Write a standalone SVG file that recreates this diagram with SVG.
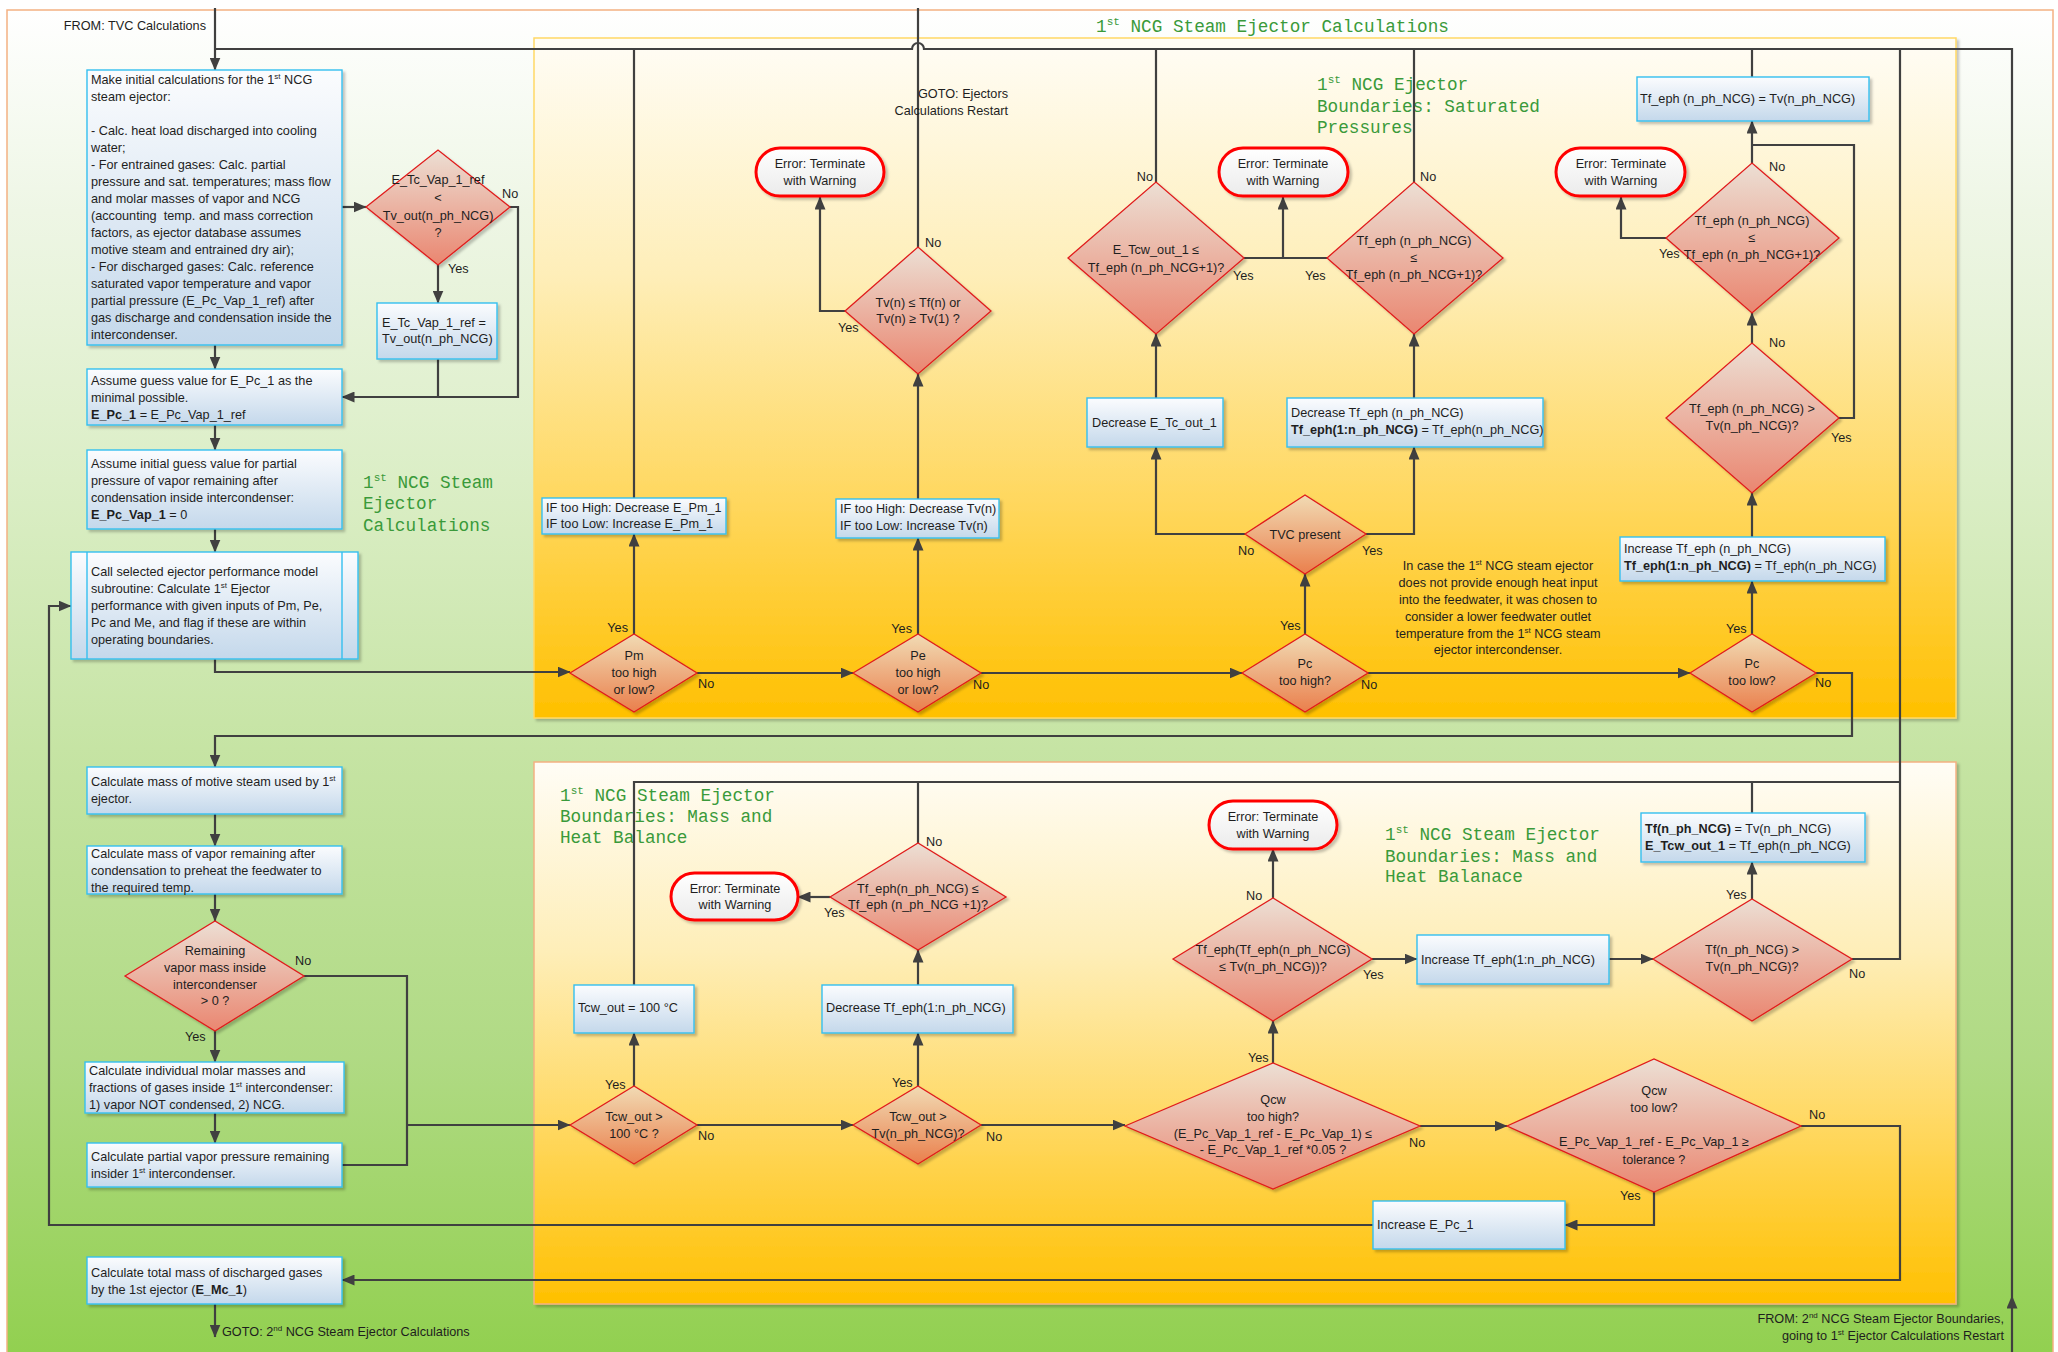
<svg xmlns="http://www.w3.org/2000/svg" width="2058" height="1352" viewBox="0 0 2058 1352">
<defs>
  <linearGradient id="gFrame" gradientUnits="userSpaceOnUse" x1="0" y1="10" x2="0" y2="1352">
    <stop offset="0" stop-color="#ffffff"/>
    <stop offset="0.15" stop-color="#eef6e5"/>
    <stop offset="0.35" stop-color="#dbeec6"/>
    <stop offset="0.55" stop-color="#c6e4a4"/>
    <stop offset="0.78" stop-color="#b0da84"/>
    <stop offset="1" stop-color="#92d050"/>
  </linearGradient>
  <linearGradient id="gYel" x1="0" y1="0" x2="0" y2="1">
    <stop offset="0" stop-color="#fffdf6"/>
    <stop offset="0.35" stop-color="#feeeb8"/>
    <stop offset="0.7" stop-color="#ffd659"/>
    <stop offset="1" stop-color="#ffc000"/>
  </linearGradient>
  <linearGradient id="gBox" x1="0" y1="0" x2="0" y2="1">
    <stop offset="0" stop-color="#fbfcfe"/>
    <stop offset="1" stop-color="#c4d8eb"/>
  </linearGradient>
  <linearGradient id="gDiaP" x1="0" y1="0" x2="0" y2="1">
    <stop offset="0" stop-color="#ecdfd4"/>
    <stop offset="1" stop-color="#ea8670"/>
  </linearGradient>
  <linearGradient id="gDiaO" x1="0" y1="0" x2="0" y2="1">
    <stop offset="0" stop-color="#f1dbb4"/>
    <stop offset="1" stop-color="#ea7f4c"/>
  </linearGradient>
  <linearGradient id="gTerm" x1="0" y1="0" x2="0" y2="1">
    <stop offset="0" stop-color="#ffffff"/>
    <stop offset="1" stop-color="#ebebeb"/>
  </linearGradient>
  <marker id="arr" markerUnits="userSpaceOnUse" markerWidth="13" markerHeight="11" viewBox="0 0 13 11" refX="12.5" refY="5.5" orient="auto">
    <path d="M0 0 L13 5.5 L0 11 Z" fill="#404040"/>
  </marker>
  <filter id="sh" x="-10%" y="-10%" width="130%" height="130%">
    <feDropShadow dx="2.5" dy="2.5" stdDeviation="1" flood-color="#000" flood-opacity="0.22"/>
  </filter>
</defs>
<style>
  .t{font-family:"Liberation Sans",Arial,sans-serif;font-size:12.7px;fill:#1e1e1e}
  .c{text-anchor:middle}
  .e{text-anchor:end}
  .b{font-weight:bold}
  .g{font-family:"Liberation Mono","Courier New",monospace;font-size:17.7px;fill:#3a9a3a}
  .box{fill:url(#gBox);stroke:#35bff0;stroke-width:1.4;filter:url(#sh)}
  .dp{fill:url(#gDiaP);stroke:#e01b1b;stroke-width:1.3;filter:url(#sh)}
  .do{fill:url(#gDiaO);stroke:#e01b1b;stroke-width:1.3;filter:url(#sh)}
  .term{fill:url(#gTerm);stroke:#ff0000;stroke-width:3;filter:url(#sh)}
  .ln{fill:none;stroke:#404040;stroke-width:2.2}
  .ar{marker-end:url(#arr)}
</style>

<!-- containers -->
<g id="containers">
  <rect x="7" y="10" width="2046" height="1360" fill="url(#gFrame)" stroke="#f4b183" stroke-width="1.5"/>
  <rect x="534" y="38" width="1422" height="680" fill="url(#gYel)" stroke="#ffd966" stroke-width="1.5" filter="url(#sh)"/>
  <rect x="534" y="762" width="1422" height="542" fill="url(#gYel)" stroke="#f4b183" stroke-width="1.5" filter="url(#sh)"/>
</g>

<!-- section titles -->
<g id="titles">
  <text class="g" x="1096" y="32">1<tspan dy="-7" font-size="11">st</tspan><tspan dy="7"> NCG Steam Ejector Calculations</tspan></text>
  <text class="g" x="1317" y="90">1<tspan dy="-7" font-size="11">st</tspan><tspan dy="7"> NCG Ejector</tspan></text>
  <text class="g" x="1317" y="112">Boundaries: Saturated</text>
  <text class="g" x="1317" y="133">Pressures</text>
  <text class="g" x="363" y="488">1<tspan dy="-7" font-size="11">st</tspan><tspan dy="7"> NCG Steam</tspan></text>
  <text class="g" x="363" y="509">Ejector</text>
  <text class="g" x="363" y="531">Calculations</text>
  <text class="g" x="560" y="801">1<tspan dy="-7" font-size="11">st</tspan><tspan dy="7"> NCG Steam Ejector</tspan></text>
  <text class="g" x="560" y="822">Boundaries: Mass and</text>
  <text class="g" x="560" y="843">Heat Balance</text>
  <text class="g" x="1385" y="840">1<tspan dy="-7" font-size="11">st</tspan><tspan dy="7"> NCG Steam Ejector</tspan></text>
  <text class="g" x="1385" y="862">Boundaries: Mass and</text>
  <text class="g" x="1385" y="882">Heat Balanace</text>
</g>

<!-- connectors -->
<g id="connectors">
  <path class="ln ar" d="M215 8 V70"/>
  <path class="ln ar" d="M2012 1352 V1296"/>
  <path class="ln" d="M2012 1296 V49 H924 A6 6 0 0 0 912 49 H215"/>
  <path class="ln" d="M1852 959 H1900 V49"/>
  <path class="ln" d="M634 985 V782 H1900"/>
  <path class="ln" d="M918 843 V782"/>
  <path class="ln" d="M1752 813 V782"/>
  <path class="ln" d="M634 498 V49"/>
  <path class="ln" d="M918 247 V8"/>
  <path class="ln" d="M1156 182 V49"/>
  <path class="ln" d="M1414 182 V49"/>
  <path class="ln" d="M1752 77 V49"/>

  <path class="ln ar" d="M215 345 V369"/>
  <path class="ln ar" d="M215 425 V450"/>
  <path class="ln ar" d="M215 529 V552"/>
  <path class="ln ar" d="M342 207 H366"/>
  <path class="ln ar" d="M438 265 V303"/>
  <path class="ln ar" d="M510 207 H518 V397 H342"/>
  <path class="ln" d="M438 359 V397"/>
  <path class="ln ar" d="M215 659 V672 H570"/>
  <path class="ln ar" d="M1816 673 H1852 V736 H215 V767"/>
  <path class="ln ar" d="M215 814 V846"/>
  <path class="ln ar" d="M215 894 V921"/>
  <path class="ln ar" d="M215 1031 V1062"/>
  <path class="ln ar" d="M215 1113 V1143"/>
  <path class="ln" d="M304 976 H407 V1165 H342"/>
  <path class="ln ar" d="M407 1125 H570"/>
  <path class="ln ar" d="M1373 1225 H49 V606 H71"/>
  <path class="ln ar" d="M1654 1192 V1225 H1565"/>
  <path class="ln ar" d="M1801 1126 H1900 V1280 H342"/>
  <path class="ln ar" d="M215 1304 V1337"/>

  <path class="ln ar" d="M697 673 H853"/>
  <path class="ln ar" d="M981 673 H1242"/>
  <path class="ln ar" d="M1368 673 H1690"/>
  <path class="ln ar" d="M634 634 V534"/>
  <path class="ln ar" d="M918 634 V538"/>
  <path class="ln ar" d="M918 499 V374"/>
  <path class="ln ar" d="M845 311 H820 V197"/>
  <path class="ln ar" d="M1305 634 V574"/>
  <path class="ln ar" d="M1245 534 H1156 V447"/>
  <path class="ln ar" d="M1366 534 H1414 V447"/>
  <path class="ln ar" d="M1156 398 V334"/>
  <path class="ln ar" d="M1414 398 V334"/>
  <path class="ln" d="M1244 258 H1327"/>
  <path class="ln ar" d="M1283 258 V197"/>
  <path class="ln ar" d="M1752 634 V581"/>
  <path class="ln ar" d="M1752 537 V493"/>
  <path class="ln ar" d="M1752 343 V313"/>
  <path class="ln ar" d="M1752 163 V121"/>
  <path class="ln" d="M1839 418 H1854 V145 H1752"/>
  <path class="ln ar" d="M1666 238 H1621 V197"/>

  <path class="ln ar" d="M697 1125 H853"/>
  <path class="ln ar" d="M981 1125 H1125"/>
  <path class="ln ar" d="M1420 1126 H1507"/>
  <path class="ln ar" d="M634 1086 V1033"/>
  <path class="ln ar" d="M918 1086 V1033"/>
  <path class="ln ar" d="M918 985 V950"/>
  <path class="ln ar" d="M830 897 H798"/>
  <path class="ln ar" d="M1273 1063 V1021"/>
  <path class="ln ar" d="M1273 898 V849"/>
  <path class="ln ar" d="M1372 959 H1417"/>
  <path class="ln ar" d="M1609 959 H1653"/>
  <path class="ln ar" d="M1752 899 V862"/>
</g>

<!-- free labels -->
<g id="from-tvc"><text class="t e" x="206" y="30">FROM: TVC Calculations</text></g>
<g id="goto-restart">
  <text class="t e" x="1008" y="98">GOTO: Ejectors</text>
  <text class="t e" x="1008" y="115">Calculations Restart</text>
</g>
<g id="goto-second"><text class="t" x="222" y="1336">GOTO: 2<tspan dy="-5" font-size="8">nd</tspan><tspan dy="5"> NCG Steam Ejector Calculations</tspan></text></g>
<g id="from-second">
  <text class="t e" x="2004" y="1323">FROM: 2<tspan dy="-5" font-size="8">nd</tspan><tspan dy="5"> NCG Steam Ejector Boundaries,</tspan></text>
  <text class="t e" x="2004" y="1340">going to 1<tspan dy="-5" font-size="8">st</tspan><tspan dy="5"> Ejector Calculations Restart</tspan></text>
</g>
<g id="note-tvc">
  <text class="t c" x="1498" y="570">In case the 1<tspan dy="-5" font-size="8">st</tspan><tspan dy="5"> NCG steam ejector</tspan></text>
  <text class="t c" x="1498" y="587">does not provide enough heat input</text>
  <text class="t c" x="1498" y="604">into the feedwater, it was chosen to</text>
  <text class="t c" x="1498" y="621">consider a lower feedwater outlet</text>
  <text class="t c" x="1498" y="638">temperature from the 1<tspan dy="-5" font-size="8">st</tspan><tspan dy="5"> NCG steam</tspan></text>
  <text class="t c" x="1498" y="654">ejector intercondenser.</text>
</g>

<!-- left column -->
<g id="init-calcs">
  <rect class="box" x="87" y="70" width="255" height="275"/>
  <text class="t" x="91" y="84">Make initial calculations for the 1<tspan dy="-5" font-size="8">st</tspan><tspan dy="5"> NCG</tspan></text>
  <text class="t" x="91" y="101">steam ejector:</text>
  <text class="t" x="91" y="135">- Calc. heat load discharged into cooling</text>
  <text class="t" x="91" y="152">water;</text>
  <text class="t" x="91" y="169">- For entrained gases: Calc. partial</text>
  <text class="t" x="91" y="186">pressure and sat. temperatures; mass flow</text>
  <text class="t" x="91" y="203">and molar masses of vapor and NCG</text>
  <text class="t" x="91" y="220" xml:space="preserve">(accounting  temp. and mass correction</text>
  <text class="t" x="91" y="237">factors, as ejector database assumes</text>
  <text class="t" x="91" y="254">motive steam and entrained dry air);</text>
  <text class="t" x="91" y="271">- For discharged gases: Calc. reference</text>
  <text class="t" x="91" y="288">saturated vapor temperature and vapor</text>
  <text class="t" x="91" y="305">partial pressure (E_Pc_Vap_1_ref) after</text>
  <text class="t" x="91" y="322">gas discharge and condensation inside the</text>
  <text class="t" x="91" y="339">intercondenser.</text>
</g>
<g id="dec-tc-vap-ref">
  <polygon class="dp" points="366,207 438,150 510,207 438,265"/>
  <text class="t c" x="438" y="184">E_Tc_Vap_1_ref</text>
  <text class="t c" x="438" y="202">&lt;</text>
  <text class="t c" x="438" y="220">Tv_out(n_ph_NCG)</text>
  <text class="t c" x="438" y="237">?</text>
  <text class="t" x="502" y="198">No</text>
  <text class="t" x="448" y="273">Yes</text>
</g>
<g id="set-tc-vap-ref">
  <rect class="box" x="377" y="303" width="120" height="56"/>
  <text class="t" x="382" y="327">E_Tc_Vap_1_ref =</text>
  <text class="t" x="382" y="343">Tv_out(n_ph_NCG)</text>
</g>
<g id="guess-pc">
  <rect class="box" x="87" y="369" width="255" height="56"/>
  <text class="t" x="91" y="385">Assume guess value for E_Pc_1 as the</text>
  <text class="t" x="91" y="402">minimal possible.</text>
  <text class="t" x="91" y="419"><tspan class="b">E_Pc_1</tspan> = E_Pc_Vap_1_ref</text>
</g>
<g id="guess-pc-vap">
  <rect class="box" x="87" y="450" width="255" height="79"/>
  <text class="t" x="91" y="468">Assume initial guess value for partial</text>
  <text class="t" x="91" y="485">pressure of vapor remaining after</text>
  <text class="t" x="91" y="502">condensation inside intercondenser:</text>
  <text class="t" x="91" y="519"><tspan class="b">E_Pc_Vap_1</tspan> = 0</text>
</g>
<g id="call-model">
  <rect class="box" x="71" y="552" width="287" height="107"/>
  <path d="M87 552 V659 M342 552 V659" stroke="#35bff0" stroke-width="1.4" fill="none"/>
  <text class="t" x="91" y="576">Call selected ejector performance model</text>
  <text class="t" x="91" y="593">subroutine: Calculate 1<tspan dy="-5" font-size="8">st</tspan><tspan dy="5"> Ejector</tspan></text>
  <text class="t" x="91" y="610">performance with given inputs of Pm, Pe,</text>
  <text class="t" x="91" y="627">Pc and Me, and flag if these are within</text>
  <text class="t" x="91" y="644">operating boundaries.</text>
</g>
<g id="motive-steam">
  <rect class="box" x="87" y="767" width="255" height="47"/>
  <text class="t" x="91" y="786">Calculate mass of motive steam used by 1<tspan dy="-5" font-size="8">st</tspan></text>
  <text class="t" x="91" y="803">ejector.</text>
</g>
<g id="vapor-remaining">
  <rect class="box" x="87" y="846" width="255" height="48"/>
  <text class="t" x="91" y="858">Calculate mass of vapor remaining after</text>
  <text class="t" x="91" y="875">condensation to preheat the feedwater to</text>
  <text class="t" x="91" y="892">the required temp.</text>
</g>
<g id="dec-remaining">
  <polygon class="dp" points="125,976 215,921 304,976 215,1031"/>
  <text class="t c" x="215" y="955">Remaining</text>
  <text class="t c" x="215" y="972">vapor mass inside</text>
  <text class="t c" x="215" y="989">intercondenser</text>
  <text class="t c" x="215" y="1005">&gt; 0 ?</text>
  <text class="t" x="295" y="965">No</text>
  <text class="t" x="185" y="1041">Yes</text>
</g>
<g id="molar-masses">
  <rect class="box" x="85" y="1062" width="259" height="51"/>
  <text class="t" x="89" y="1075">Calculate individual molar masses and</text>
  <text class="t" x="89" y="1092">fractions of gases inside 1<tspan dy="-5" font-size="8">st</tspan><tspan dy="5"> intercondenser:</tspan></text>
  <text class="t" x="89" y="1109">1) vapor NOT condensed, 2) NCG.</text>
</g>
<g id="partial-vapor">
  <rect class="box" x="87" y="1143" width="255" height="44"/>
  <text class="t" x="91" y="1161">Calculate partial vapor pressure remaining</text>
  <text class="t" x="91" y="1178">insider 1<tspan dy="-5" font-size="8">st</tspan><tspan dy="5"> intercondenser.</tspan></text>
</g>
<g id="total-mass">
  <rect class="box" x="87" y="1257" width="255" height="47"/>
  <text class="t" x="91" y="1277">Calculate total mass of discharged gases</text>
  <text class="t" x="91" y="1294">by the 1st ejector (<tspan class="b">E_Mc_1</tspan>)</text>
</g>

<!-- upper section: saturated pressures -->
<g id="dec-pm">
  <polygon class="do" points="570,673 634,634 697,673 634,712"/>
  <text class="t c" x="634" y="660">Pm</text>
  <text class="t c" x="634" y="677">too high</text>
  <text class="t c" x="634" y="694">or low?</text>
  <text class="t e" x="628" y="632">Yes</text>
  <text class="t" x="698" y="688">No</text>
</g>
<g id="adj-pm">
  <rect class="box" x="542" y="498" width="184" height="36"/>
  <text class="t" x="546" y="512">IF too High: Decrease E_Pm_1</text>
  <text class="t" x="546" y="528">IF too Low: Increase E_Pm_1</text>
</g>
<g id="dec-pe">
  <polygon class="do" points="853,673 918,634 981,673 918,712"/>
  <text class="t c" x="918" y="660">Pe</text>
  <text class="t c" x="918" y="677">too high</text>
  <text class="t c" x="918" y="694">or low?</text>
  <text class="t e" x="912" y="633">Yes</text>
  <text class="t" x="973" y="689">No</text>
</g>
<g id="adj-tv">
  <rect class="box" x="836" y="499" width="163" height="39"/>
  <text class="t" x="840" y="513">IF too High: Decrease Tv(n)</text>
  <text class="t" x="840" y="530">IF too Low: Increase Tv(n)</text>
</g>
<g id="dec-tv-range">
  <polygon class="dp" points="845,311 918,247 991,311 918,374"/>
  <text class="t c" x="918" y="307">Tv(n) ≤ Tf(n) or</text>
  <text class="t c" x="918" y="323">Tv(n) ≥ Tv(1) ?</text>
  <text class="t" x="838" y="332">Yes</text>
  <text class="t" x="925" y="247">No</text>
</g>
<g id="err-tv">
  <rect class="term" x="756" y="148" width="128" height="48" rx="24"/>
  <text class="t c" x="820" y="168">Error: Terminate</text>
  <text class="t c" x="820" y="185">with Warning</text>
</g>
<g id="dec-pc-high">
  <polygon class="do" points="1242,673 1305,634 1368,673 1305,712"/>
  <text class="t c" x="1305" y="668">Pc</text>
  <text class="t c" x="1305" y="685">too high?</text>
  <text class="t" x="1280" y="630">Yes</text>
  <text class="t" x="1361" y="689">No</text>
</g>
<g id="dec-tvc">
  <polygon class="do" points="1245,534 1305,495 1366,534 1305,574"/>
  <text class="t c" x="1305" y="539">TVC present</text>
  <text class="t" x="1238" y="555">No</text>
  <text class="t" x="1362" y="555">Yes</text>
</g>
<g id="dec-tc-out">
  <rect class="box" x="1087" y="398" width="136" height="49"/>
  <text class="t" x="1092" y="427">Decrease E_Tc_out_1</text>
</g>
<g id="dec-tf-eph">
  <rect class="box" x="1287" y="398" width="256" height="49"/>
  <text class="t" x="1291" y="417">Decrease Tf_eph (n_ph_NCG)</text>
  <text class="t" x="1291" y="434"><tspan class="b">Tf_eph(1:n_ph_NCG)</tspan> = Tf_eph(n_ph_NCG)</text>
</g>
<g id="dec-tcw-out">
  <polygon class="dp" points="1068,258 1156,182 1244,258 1156,334"/>
  <text class="t c" x="1156" y="254">E_Tcw_out_1 ≤</text>
  <text class="t c" x="1156" y="272">Tf_eph (n_ph_NCG+1)?</text>
  <text class="t e" x="1153" y="181">No</text>
  <text class="t" x="1233" y="280">Yes</text>
</g>
<g id="dec-tf-order">
  <polygon class="dp" points="1327,258 1414,182 1503,258 1414,334"/>
  <text class="t c" x="1414" y="245">Tf_eph (n_ph_NCG)</text>
  <text class="t c" x="1414" y="262">≤</text>
  <text class="t c" x="1414" y="279">Tf_eph (n_ph_NCG+1)?</text>
  <text class="t" x="1305" y="280">Yes</text>
  <text class="t" x="1420" y="181">No</text>
</g>
<g id="err-sat">
  <rect class="term" x="1219" y="148" width="129" height="48" rx="24"/>
  <text class="t c" x="1283" y="168">Error: Terminate</text>
  <text class="t c" x="1283" y="185">with Warning</text>
</g>
<g id="dec-pc-low">
  <polygon class="do" points="1690,673 1752,634 1816,673 1752,712"/>
  <text class="t c" x="1752" y="668">Pc</text>
  <text class="t c" x="1752" y="685">too low?</text>
  <text class="t" x="1726" y="633">Yes</text>
  <text class="t" x="1815" y="687">No</text>
</g>
<g id="inc-tf-eph">
  <rect class="box" x="1620" y="537" width="265" height="44"/>
  <text class="t" x="1624" y="553">Increase Tf_eph (n_ph_NCG)</text>
  <text class="t" x="1624" y="570"><tspan class="b">Tf_eph(1:n_ph_NCG)</tspan> = Tf_eph(n_ph_NCG)</text>
</g>
<g id="dec-tf-above-tv">
  <polygon class="dp" points="1666,418 1752,343 1839,418 1752,493"/>
  <text class="t c" x="1752" y="413">Tf_eph (n_ph_NCG) &gt;</text>
  <text class="t c" x="1752" y="430">Tv(n_ph_NCG)?</text>
  <text class="t" x="1769" y="347">No</text>
  <text class="t" x="1831" y="442">Yes</text>
</g>
<g id="dec-tf-order-low">
  <polygon class="dp" points="1666,238 1752,163 1839,238 1752,313"/>
  <text class="t c" x="1752" y="225">Tf_eph (n_ph_NCG)</text>
  <text class="t c" x="1752" y="242">≤</text>
  <text class="t c" x="1752" y="259">Tf_eph (n_ph_NCG+1)?</text>
  <text class="t" x="1769" y="171">No</text>
  <text class="t" x="1659" y="258">Yes</text>
</g>
<g id="err-low">
  <rect class="term" x="1556" y="148" width="129" height="48" rx="24"/>
  <text class="t c" x="1621" y="168">Error: Terminate</text>
  <text class="t c" x="1621" y="185">with Warning</text>
</g>
<g id="set-tf-tv">
  <rect class="box" x="1637" y="77" width="232" height="44"/>
  <text class="t" x="1640" y="103">Tf_eph (n_ph_NCG) = Tv(n_ph_NCG)</text>
</g>

<!-- lower section: mass and heat balance -->
<g id="dec-tcw-100">
  <polygon class="do" points="570,1125 634,1086 697,1125 634,1164"/>
  <text class="t c" x="634" y="1121">Tcw_out &gt;</text>
  <text class="t c" x="634" y="1138">100 °C ?</text>
  <text class="t" x="605" y="1089">Yes</text>
  <text class="t" x="698" y="1140">No</text>
</g>
<g id="set-tcw-100">
  <rect class="box" x="574" y="985" width="120" height="48"/>
  <text class="t" x="578" y="1012">Tcw_out = 100 °C</text>
</g>
<g id="dec-tcw-tv">
  <polygon class="do" points="853,1125 918,1086 981,1125 918,1164"/>
  <text class="t c" x="918" y="1121">Tcw_out &gt;</text>
  <text class="t c" x="918" y="1138">Tv(n_ph_NCG)?</text>
  <text class="t" x="892" y="1087">Yes</text>
  <text class="t" x="986" y="1141">No</text>
</g>
<g id="dec-tf-all">
  <rect class="box" x="822" y="985" width="191" height="48"/>
  <text class="t" x="826" y="1012">Decrease Tf_eph(1:n_ph_NCG)</text>
</g>
<g id="dec-tf-order-mass">
  <polygon class="dp" points="830,897 918,843 1006,897 918,950"/>
  <text class="t c" x="918" y="893">Tf_eph(n_ph_NCG) ≤</text>
  <text class="t c" x="918" y="909">Tf_eph (n_ph_NCG +1)?</text>
  <text class="t" x="926" y="846">No</text>
  <text class="t" x="824" y="917">Yes</text>
</g>
<g id="err-mass">
  <rect class="term" x="671" y="873" width="127" height="47" rx="23.5"/>
  <text class="t c" x="735" y="893">Error: Terminate</text>
  <text class="t c" x="735" y="909">with Warning</text>
</g>
<g id="dec-qcw-high">
  <polygon class="dp" points="1125,1126 1273,1063 1420,1126 1273,1189"/>
  <text class="t c" x="1273" y="1104">Qcw</text>
  <text class="t c" x="1273" y="1121">too high?</text>
  <text class="t c" x="1273" y="1138">(E_Pc_Vap_1_ref - E_Pc_Vap_1) ≤</text>
  <text class="t c" x="1273" y="1154">- E_Pc_Vap_1_ref *0.05 ?</text>
  <text class="t" x="1248" y="1062">Yes</text>
  <text class="t" x="1409" y="1147">No</text>
</g>
<g id="dec-tf-below-tv">
  <polygon class="dp" points="1173,959 1273,898 1372,959 1273,1021"/>
  <text class="t c" x="1273" y="954">Tf_eph(Tf_eph(n_ph_NCG)</text>
  <text class="t c" x="1273" y="971">≤  Tv(n_ph_NCG))?</text>
  <text class="t" x="1246" y="900">No</text>
  <text class="t" x="1363" y="979">Yes</text>
</g>
<g id="err-heat">
  <rect class="term" x="1209" y="801" width="128" height="48" rx="24"/>
  <text class="t c" x="1273" y="821">Error: Terminate</text>
  <text class="t c" x="1273" y="838">with Warning</text>
</g>
<g id="inc-tf-all">
  <rect class="box" x="1417" y="935" width="192" height="49"/>
  <text class="t" x="1421" y="964">Increase Tf_eph(1:n_ph_NCG)</text>
</g>
<g id="dec-tf-gt-tv">
  <polygon class="dp" points="1653,959 1752,899 1852,959 1752,1021"/>
  <text class="t c" x="1752" y="954">Tf(n_ph_NCG) &gt;</text>
  <text class="t c" x="1752" y="971">Tv(n_ph_NCG)?</text>
  <text class="t" x="1726" y="899">Yes</text>
  <text class="t" x="1849" y="978">No</text>
</g>
<g id="set-tf-tcw">
  <rect class="box" x="1641" y="813" width="224" height="49"/>
  <text class="t" x="1645" y="833"><tspan class="b">Tf(n_ph_NCG)</tspan> = Tv(n_ph_NCG)</text>
  <text class="t" x="1645" y="850"><tspan class="b">E_Tcw_out_1</tspan> = Tf_eph(n_ph_NCG)</text>
</g>
<g id="dec-qcw-low">
  <polygon class="dp" points="1507,1126 1654,1059 1801,1126 1654,1192"/>
  <text class="t c" x="1654" y="1095">Qcw</text>
  <text class="t c" x="1654" y="1112">too low?</text>
  <text class="t c" x="1654" y="1146">E_Pc_Vap_1_ref - E_Pc_Vap_1 ≥</text>
  <text class="t c" x="1654" y="1164">tolerance ?</text>
  <text class="t" x="1809" y="1119">No</text>
  <text class="t" x="1620" y="1200">Yes</text>
</g>
<g id="inc-pc">
  <rect class="box" x="1373" y="1201" width="192" height="48"/>
  <text class="t" x="1377" y="1229">Increase E_Pc_1</text>
</g>
</svg>
